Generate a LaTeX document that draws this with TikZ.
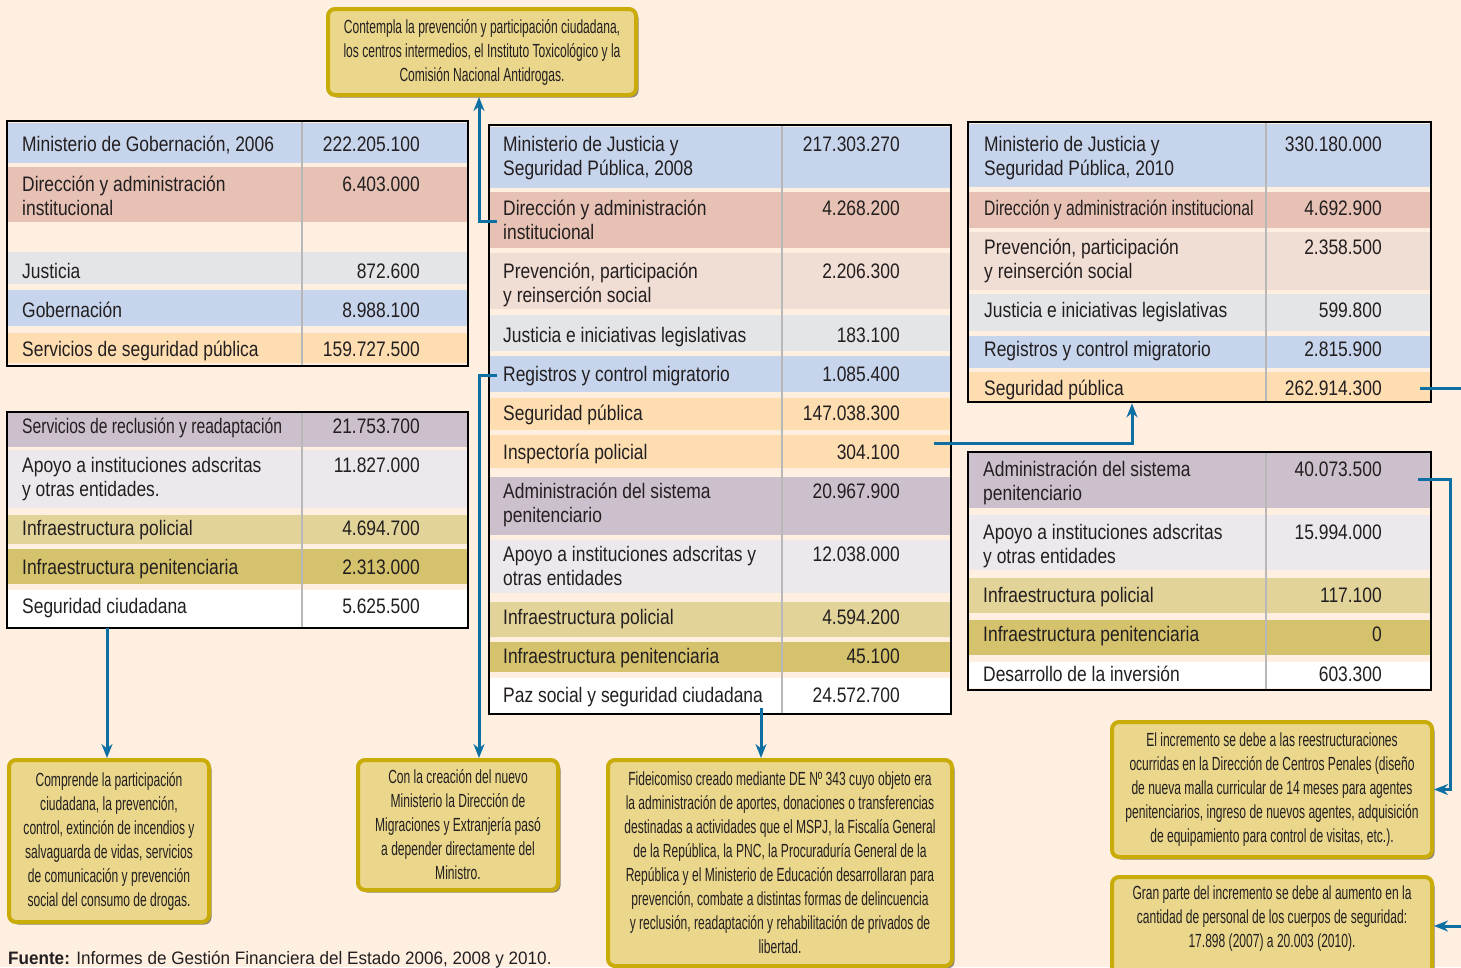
\documentclass[tikz,border=0pt]{standalone}
\usepackage{fontspec}
\setmainfont{Liberation Sans}
\newfontfamily\tabfont[FakeStretch=0.83]{Liberation Sans}
\newfontfamily\srcfont[FakeStretch=0.95]{Liberation Sans}
\newfontfamily\calfont[FakeStretch=0.635]{Liberation Sans}
\usetikzlibrary{arrows.meta,shadows}
\definecolor{bg}{HTML}{FEEFE1}
\definecolor{cblue}{HTML}{C6D4EC}
\definecolor{csalmon}{HTML}{E6C1B4}
\definecolor{cpink}{HTML}{F0DDD3}
\definecolor{cgrey}{HTML}{E4E5E7}
\definecolor{corange}{HTML}{FEDDB1}
\definecolor{cmauve}{HTML}{CBC0CC}
\definecolor{clight}{HTML}{ECE8EC}
\definecolor{ckhaki}{HTML}{E2D499}
\definecolor{cgold}{HTML}{D5C26C}
\definecolor{calfill}{HTML}{EAD78B}
\definecolor{calborder}{HTML}{C9AB0A}
\definecolor{arrowc}{HTML}{0E6FA2}
\definecolor{txt}{HTML}{231F20}
\definecolor{divc}{HTML}{B8B8B8}
\newcounter{tn}
\newcommand\tabL[3]{\stepcounter{tn}\node[tabtxt,anchor=base west] (l\arabic{tn}) at (#1,#2) {#3};}
\newcommand\tabR[3]{\stepcounter{tn}\node[tabtxt,anchor=base east] (v\arabic{tn}) at (#1,#2) {#3};}
\begin{document}
\begin{tikzpicture}[x=1pt,y=-1pt,
  tabtxt/.style={font=\tabfont\fontsize{21}{24}\selectfont, text=txt, inner sep=0pt},
  tbl/.style={draw=black, line width=2.8pt, inner sep=0pt, rectangle},
  divline/.style={draw=divc, line width=2.5pt},
  callout/.style={draw=calborder, line width=4pt, fill=calfill, rounded corners=7pt, align=center, inner sep=0pt, font=\calfont\fontsize{19}{24}\selectfont, text=txt, drop shadow={shadow xshift=2.5pt,shadow yshift=-2.5pt,fill=black,opacity=0.45}},
  conn/.style={draw=arrowc, line width=3pt},
  arr/.style={conn, -{Stealth[length=14pt,width=11pt]}},
]
\useasboundingbox (0,0) rectangle (1461,967);
\fill[bg] (0,0) rectangle (1461,967);

% ---------- Table 1 ----------
\fill[cblue] (7,123) rectangle (468,163);
\fill[csalmon] (7,167) rectangle (468,222);
\fill[cgrey] (7,252) rectangle (468,284);
\fill[cblue] (7,290) rectangle (468,326);
\fill[corange] (7,333) rectangle (468,363);
\draw[divline] (302,121) -- (302,366);
\node[tbl, minimum width=461pt, minimum height=245pt] (T1) at (237.5,243.5) {};
\tabL{22}{151}{Ministerio de Gobernación, 2006} \tabR{420}{151}{222.205.100}
\tabL{22}{191}{Dirección y administración} \tabL{22}{215}{institucional} \tabR{420}{191}{6.403.000}
\tabL{22}{278}{Justicia} \tabR{420}{278}{872.600}
\tabL{22}{317}{Gobernación} \tabR{420}{317}{8.988.100}
\tabL{22}{356}{Servicios de seguridad pública} \tabR{420}{356}{159.727.500}

% ---------- Table 2 ----------
\fill[cmauve] (7,413) rectangle (468,447);
\fill[clight] (7,450) rectangle (468,508);
\fill[ckhaki] (7,515) rectangle (468,544);
\fill[cgold] (7,549) rectangle (468,584);
\fill[white] (7,590) rectangle (468,627);
\draw[divline] (302,412) -- (302,628);
\node[tbl, minimum width=461pt, minimum height=216pt] (T2) at (237.5,520) {};
\tabL{22}{433}{\scalebox{0.9}[1]{Servicios de reclusión y readaptación}} \tabR{420}{433}{21.753.700}
\tabL{22}{472}{Apoyo a instituciones adscritas} \tabL{22}{496}{y otras entidades.} \tabR{420}{472}{11.827.000}
\tabL{22}{535}{Infraestructura policial} \tabR{420}{535}{4.694.700}
\tabL{22}{574}{Infraestructura penitenciaria} \tabR{420}{574}{2.313.000}
\tabL{22}{613}{Seguridad ciudadana} \tabR{420}{613}{5.625.500}

% ---------- Table 3 ----------
\fill[cblue] (489,127) rectangle (951,188);
\fill[csalmon] (489,192) rectangle (951,248);
\fill[cpink] (489,253) rectangle (951,309);
\fill[cgrey] (489,315) rectangle (951,351);
\fill[cblue] (489,356) rectangle (951,392);
\fill[corange] (489,398) rectangle (951,430);
\fill[corange] (489,435) rectangle (951,468);
\fill[cmauve] (489,477) rectangle (951,535);
\fill[clight] (489,540) rectangle (951,593);
\fill[ckhaki] (489,602) rectangle (951,637);
\fill[cgold] (489,642) rectangle (951,672);
\fill[white] (489,678) rectangle (951,713);
\draw[divline] (782,125) -- (782,714);
\node[tbl, minimum width=462pt, minimum height=589pt] (T3) at (720,419.5) {};
\tabL{503}{151}{Ministerio de Justicia y} \tabL{503}{175}{Seguridad Pública, 2008} \tabR{900}{151}{217.303.270}
\tabL{503}{215}{Dirección y administración} \tabL{503}{239}{institucional} \tabR{900}{215}{4.268.200}
\tabL{503}{278}{Prevención, participación} \tabL{503}{302}{y reinserción social} \tabR{900}{278}{2.206.300}
\tabL{503}{342}{Justicia e iniciativas legislativas} \tabR{900}{342}{183.100}
\tabL{503}{381}{Registros y control migratorio} \tabR{900}{381}{1.085.400}
\tabL{503}{420}{Seguridad pública} \tabR{900}{420}{147.038.300}
\tabL{503}{459}{Inspectoría policial} \tabR{900}{459}{304.100}
\tabL{503}{498}{Administración del sistema} \tabL{503}{522}{penitenciario} \tabR{900}{498}{20.967.900}
\tabL{503}{561}{Apoyo a instituciones adscritas y} \tabL{503}{585}{otras entidades} \tabR{900}{561}{12.038.000}
\tabL{503}{624}{Infraestructura policial} \tabR{900}{624}{4.594.200}
\tabL{503}{663}{Infraestructura penitenciaria} \tabR{900}{663}{45.100}
\tabL{503}{702}{Paz social y seguridad ciudadana} \tabR{900}{702}{24.572.700}

% ---------- Table 4 ----------
\fill[cblue] (968,124) rectangle (1431,187);
\fill[csalmon] (968,192) rectangle (1431,228);
\fill[cpink] (968,232) rectangle (1431,290);
\fill[cgrey] (968,294) rectangle (1431,331);
\fill[cblue] (968,336) rectangle (1431,368);
\fill[corange] (968,372) rectangle (1431,402);
\draw[divline] (1266,122) -- (1266,402);
\node[tbl, minimum width=463pt, minimum height=280pt] (T4) at (1199.5,262) {};
\tabL{984}{151}{Ministerio de Justicia y} \tabL{984}{175}{Seguridad Pública, 2010} \tabR{1382}{151}{330.180.000}
\tabL{984}{215}{\scalebox{0.9}[1]{Dirección y administración institucional}} \tabR{1382}{215}{4.692.900}
\tabL{984}{254}{Prevención, participación} \tabL{984}{278}{y reinserción social} \tabR{1382}{254}{2.358.500}
\tabL{984}{317}{Justicia e iniciativas legislativas} \tabR{1382}{317}{599.800}
\tabL{984}{356}{Registros y control migratorio} \tabR{1382}{356}{2.815.900}
\tabL{984}{395}{Seguridad pública} \tabR{1382}{395}{262.914.300}

% ---------- Table 5 ----------
\fill[cmauve] (968,453) rectangle (1431,508);
\fill[clight] (968,515) rectangle (1431,570);
\fill[ckhaki] (968,578) rectangle (1431,613);
\fill[cgold] (968,620) rectangle (1431,655);
\fill[white] (968,662) rectangle (1431,688);
\draw[divline] (1266,452) -- (1266,690);
\node[tbl, minimum width=463pt, minimum height=238pt] (T5) at (1199.5,571) {};
\tabL{983}{476}{Administración del sistema} \tabL{983}{500}{penitenciario} \tabR{1382}{476}{40.073.500}
\tabL{983}{539}{Apoyo a instituciones adscritas} \tabL{983}{563}{y otras entidades} \tabR{1382}{539}{15.994.000}
\tabL{983}{602}{Infraestructura policial} \tabR{1382}{602}{117.100}
\tabL{983}{641}{Infraestructura penitenciaria} \tabR{1382}{641}{0}
\tabL{983}{681}{Desarrollo de la inversión} \tabR{1382}{681}{603.300}

% ---------- Callouts ----------
\node[callout, minimum width=308pt, minimum height=86pt] (C1) at (482,52)
  {Contempla la prevención y participación ciudadana,\\ los centros intermedios, el Instituto Toxicológico y la\\ Comisión Nacional Antidrogas.};
\node[callout, minimum width=200pt, minimum height=162pt] (C2) at (109,841)
  {Comprende la participación\\ ciudadana, la prevención,\\ control, extinción de incendios y\\ salvaguarda de vidas, servicios\\ de comunicación y prevención\\ social del consumo de drogas.};
\node[callout, minimum width=200pt, minimum height=130pt] (C3) at (458,825)
  {Con la creación del nuevo\\ Ministerio la Dirección de\\ Migraciones y Extranjería pasó\\ a depender directamente del\\ Ministro.};
\node[callout, minimum width=344pt, minimum height=206pt] (C4) at (780,863)
  {Fideicomiso creado mediante DE Nº 343 cuyo objeto era\\ la administración de aportes, donaciones o transferencias\\ destinadas a actividades que el MSPJ, la Fiscalía General\\ de la República, la PNC, la Procuraduría General de la\\ República y el Ministerio de Educación desarrollaran para\\ prevención, combate a distintas formas de delincuencia\\ y reclusión, readaptación y rehabilitación de privados de\\ libertad.};
\node[callout, minimum width=320pt, minimum height=135pt] (C5) at (1272,789.5)
  {El incremento se debe a las reestructuraciones\\ ocurridas en la Dirección de Centros Penales (diseño\\ de nueva malla curricular de 14 meses para agentes\\ penitenciarios, ingreso de nuevos agentes, adquisición\\ de equipamiento para control de visitas, etc.).};
\node[callout, minimum width=320pt, minimum height=98pt] (C6) at (1272,926) {};
\node[align=center, inner sep=0pt, font=\calfont\fontsize{19}{24}\selectfont, text=txt] (C6t) at (1272,919)
  {Gran parte del incremento se debe al aumento en la\\ cantidad de personal de los cuerpos de seguridad:\\ 17.898 (2007) a 20.003 (2010).};

% ---------- Connectors ----------
\coordinate (a1) at (497,221); \coordinate (k1) at (479,221);
\draw[arr] (a1) -- (k1) -- (k1 |- C1.south);
\coordinate (a2) at (497,375); \coordinate (k2) at (479,375);
\draw[arr] (a2) -- (k2) -- (k2 |- C3.north);
\coordinate (a3) at (107,628);
\draw[arr] (a3) -- (a3 |- C2.north);
\coordinate (a4) at (761,708);
\draw[arr] (a4) -- (a4 |- C4.north);
\coordinate (a5) at (934,443); \coordinate (b5) at (1132,443);
\draw[arr] (a5) -- (b5) -- (b5 |- T4.south);
\coordinate (a6) at (1418,479); \coordinate (k6) at (1450,479);
\draw[arr] (a6) -- (k6) |- (C5.east);
\coordinate (a7) at (1420,388); \coordinate (k7) at (1478,388);
\draw[arr] (a7) -- (k7) |- (C6.east);

% ---------- Source ----------
\node[anchor=base west, inner sep=0pt, font=\srcfont\fontsize{18}{20}\selectfont, text=txt] (src) at (8,964)
  {\textbf{Fuente:} Informes de Gestión Financiera del Estado 2006, 2008 y 2010.};
\end{tikzpicture}
\end{document}
